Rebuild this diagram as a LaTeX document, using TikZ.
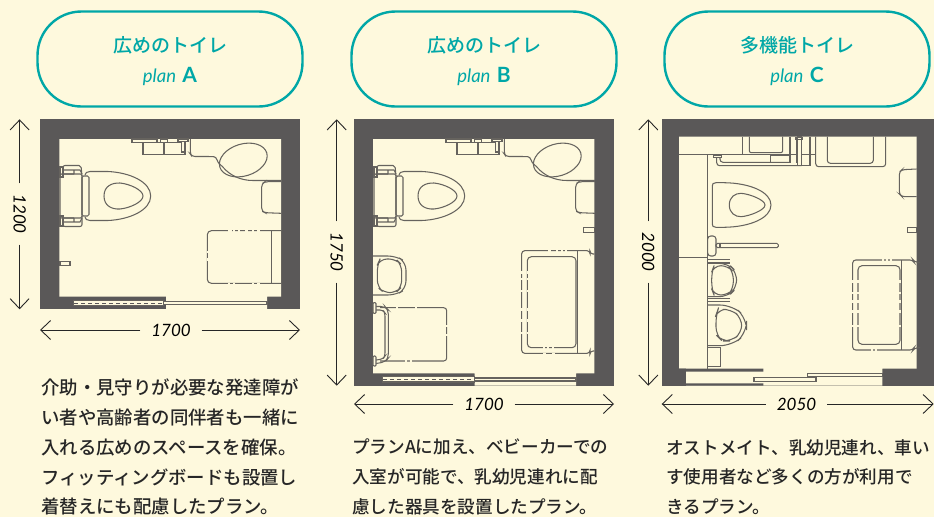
\documentclass[tikz,border=0pt]{standalone}
\usepackage{fontspec}
\usetikzlibrary{arrows.meta}
\setmainfont{Noto Sans CJK JP}
\newfontfamily\titlefont{Noto Sans CJK JP Medium}
\newfontfamily\latinfont{Lato}
\definecolor{cream}{HTML}{FEF9DD}
\definecolor{wallgray}{HTML}{5A5858}
\definecolor{fixgray}{HTML}{66635E}
\definecolor{teal}{HTML}{00A7A7}
\newcommand{\plantitle}[2]{{\rule{0pt}{21pt}\titlefont\fontsize{19}{19}\selectfont #1}\\[12pt]
    {\latinfont\fontsize{18.5}{18}\selectfont\itshape plan\hspace{2pt} \upshape\bfseries\fontsize{21}{18}\selectfont #2}}
\tikzset{
    pill/.style={draw=teal,line width=2.4pt,rounded corners=44pt,minimum width=265pt,minimum height=95pt,
        text=teal,align=center,inner sep=0},
    dimlabel/.style={minimum width=61pt,inner sep=0,font=\latinfont\itshape\fontsize{17}{17}\selectfont},
    dimline/.style={draw=black!85,line width=0.9pt},
    dimarrow/.style={dimline,-{Straight Barb[length=10pt,width=19pt,line width=0.9pt]}},
    bodytext/.style={anchor=north west,align=left,inner sep=0,text=black!85,font=\titlefont\fontsize{#1}{29.7}\selectfont},
    wall/.style={fill=wallgray},
    room/.style={fill=cream},
    fix/.style={draw=fixgray,line width=1.05pt},
    gapline/.style={draw=cream,line width=1.6pt},
    doorpanel/.style={fix,fill=cream},
    doorslide/.style={draw=wallgray,line width=1pt,dash pattern=on 4pt off 3pt}
}
% toilet, sink and shelf shared by plan A and plan B
\newcommand{\washset}[1]{
    \begin{scope}[xshift=#1]
        \draw[fix] (63,174) -- (63,168) [rounded corners=2] -- (63,165.5) -- (81,165.5) -- (82,176);
        \draw[fix,rounded corners=2] (63,219) -- (63,226.5) -- (82,226.5) -- (82,216);
        \draw[fix,rounded corners=1.5] (60,174) rectangle (82,218);
        \draw[fix] (60,167) rectangle (63,177) (60,216) rectangle (63,226);
        \draw[fix] (63,170) -- (80,170) -- (82,174) (63,174) -- (74,174) (74,170) -- (74,174);
        \draw[fix] (63,222) -- (80,222) -- (82,218) (63,218) -- (74,218) (74,218) -- (74,222);
        \draw[fix,rounded corners=1.5] (82,176) rectangle (89,216);
        \draw[fix] (85,175) .. controls (85,173) and (87,171.5) .. (90,171.5) -- (108,171.5)
            .. controls (130,172.5) and (150.7,182) .. (150.7,196)
            .. controls (150.7,210) and (130,219.5) .. (108,220.5) -- (90,220.5)
            .. controls (87,220.5) and (85,219) .. (85,217);
        \draw[fix] (104,196) .. controls (104,186) and (112,182.7) .. (120,183)
            .. controls (130,184) and (143,190) .. (143,196)
            .. controls (143,202) and (130,208) .. (120,209)
            .. controls (112,209.5) and (104,206) .. (104,196) -- cycle;
        % sink
        \draw[fix,rotate around={17:(243.3,160)}] (243.3,160) ellipse (24.5 and 16);
        \draw[fix,rounded corners=3] (190.3,139) -- (190.3,154) -- (192,156.5) -- (211,156.5)
            .. controls (217,157) and (217,162) .. (222,166)
            .. controls (230,175) and (240,180.5) .. (256,180.5) -- (281,180.5);
        % shelf
        \draw[fix] (132,139) rectangle (157,142.7) (143,142.7) rectangle (164,154.3)
            (164,142.7) rectangle (185,154.3) (160.7,139) rectangle (167.3,142.7);
        \draw[fix,fill=cream] (178,139) rectangle (188,141.7) (181.7,141.7) rectangle (185,152);
        \draw[fix,rounded corners=3] (281,181.7) -- (265,181.7) -- (261.7,184) -- (261.7,211) -- (265,212.7) -- (281,213.3);
    \end{scope}
}
\begin{document}
\begin{tikzpicture}[x=1pt,y=-1pt]
    \useasboundingbox[fill=cream] (0,0) rectangle (934,517);

    \node[pill] (titlea) at (170,59) {\plantitle{広めのトイレ}{A}};
    \node[pill] (titleb) at (484,59) {\plantitle{広めのトイレ}{B}};
    \node[pill] (titlec) at (797,59) {\plantitle{多機能トイレ}{C}};

    % plan A
    \fill[wall] (40,119.3) rectangle (300,309.3);
    \fill[room] (59.3,139) rectangle (281,296.7) (166,296.7) rectangle (267,309.3);
    \washset{0pt}
    \draw[doorpanel] (163.3,301.3) rectangle (267,304.3);
    \draw[doorpanel] (73.3,300.3) rectangle (163.3,305.7);
    \draw[doorslide] (74,303) -- (163,303);
    \draw[fix] (60,261.3) rectangle (70,265.7);
    \draw[fix,rounded corners=4] (281.5,230.7) -- (207.3,230.7) -- (207.3,283.3) -- (281.5,283.3);
    \draw[fix] (271.7,230.7) -- (271.7,283.3) (281.5,230.7) -- (281.5,283.3);
    \foreach \xa/\xb in {230/232,238/240,245/248,228/230,233/235,252/254,257/260}
        \draw[gapline] (\xa,230.7) -- (\xb,230.7);
    \foreach \xa/\xb in {228/230,233/235,252/254,257/260}
        \draw[gapline] (\xa,283.3) -- (\xb,283.3);
    \draw[gapline] (207.3,251) -- (207.3,253) (207.3,258) -- (207.3,261);

    % plan B
    \fill[wall] (354,119.3) rectangle (614,385.7);
    \fill[room] (373,139) rectangle (594.3,373.3) (474.7,373.3) rectangle (576,385.7);
    \washset{314pt}
    \draw[doorpanel] (474.7,378) rectangle (576,381);
    \draw[doorpanel] (382.3,376.5) rectangle (474.7,382);
    \draw[doorslide] (383,379.3) -- (474,379.3);
    \draw[fix] (583.7,227.3) rectangle (594.3,232.7);
    \draw[fix,rounded corners=3] (594.3,254) -- (590,254) -- (590,250.7) -- (521.7,250.7) -- (521.7,353.3) -- (590,353.3) -- (590,351) -- (594.3,351);
    \draw[fix] (577.7,250.7) -- (577.7,353.3);
    \draw[fix,rounded corners=4] (527.3,256.7) rectangle (576,347.7);
    \foreach \xa/\xb in {548/551,556/558,561/563,565/567}
        \draw[gapline] (\xa,250.7) -- (\xb,250.7);
    \foreach \xa/\xb in {547/549,552/554,543/545}
        \draw[gapline] (\xa,347.7) -- (\xb,347.7);
    \foreach \xa/\xb in {543/546,552/555}
        \draw[gapline] (\xa,353.3) -- (\xb,353.3);
    \foreach \ya/\yb in {271/274,278/280,290/292,308/311,319/322,332/334}
        \draw[gapline] (521.7,\ya) -- (521.7,\yb) (527.3,\ya) -- (527.3,\yb);
    \draw[fix,rounded corners=8] (373,256) -- (396,256) -- (406,262) -- (406,289) -- (396,295) -- (373,295);
    \draw[fix,rounded corners=7] (380,259) -- (396,259) -- (401.7,265) -- (401.7,287) -- (396,292.7) -- (384,292.7) -- (377.3,287) -- (377.3,265) -- cycle;
    \draw[fix,rounded corners=3] (380,307.7) -- (446.7,307.7) -- (446.7,361) -- (380,361);
    \draw[gapline] (396,307.7) -- (398,307.7) (415,307.7) -- (417,307.7) (446.7,325) -- (446.7,327) (446.7,334) -- (446.7,336) (405,361) -- (407,361) (410,361) -- (412,361);
    \draw[fix,rounded corners=4] (376,306.5) -- (385,306.5) -- (388.3,310) -- (388.3,358) -- (385,362) -- (376,363.5);
    \draw[fix,rounded corners=3] (376,310) -- (383,310) -- (385,313) -- (385,356) -- (383,359) -- (376,360);
    \draw[fix,fill=cream,rounded corners=1] (373,302.7) rectangle (376,313.3) (373,356) rectangle (376,366);

    % plan C
    \fill[wall] (661.7,119.3) rectangle (934,385.7);
    \fill[room] (679,136.7) rectangle (916.7,368.7) (686,368.7) rectangle (882.3,385.7);
    \fill[wall] (679,368.7) rectangle (763.3,371.5) (686,383.3) rectangle (763.3,385.7);
    \draw[doorpanel] (807.3,373.3) rectangle (882.3,376.7);
    \draw[doorpanel] (754,377.7) rectangle (816,381.7);
    \draw[fix] (679,154.3) -- (815.7,154.3) (707.3,154.3) -- (707.3,368.7) (679,257.3) -- (707.3,257.3);
    \draw[fix] (742.3,136.7) -- (742.3,154.3) (790,136.7) -- (790,163) (796.7,136.7) -- (796.7,163) (810,136.7) -- (810,154.3);
    \draw[fix,rounded corners=2] (749.3,136.7) -- (749.3,152.7) -- (782.7,152.7) -- (782.7,136.7);
    \draw[fix] (770.7,155) rectangle (790,162.3) (801.7,154.3) rectangle (810,165.7);
    \draw[fix,fill=cream] (797.7,137) rectangle (801.7,165.7) (796,137.5) rectangle (802.5,139.5);
    \draw[fix,rounded corners=3] (716.7,157) -- (716.7,165.7) -- (801.7,165.7) (720,157) -- (720,162.3) -- (790,162.3);
    \draw[fix] (713.3,155) rectangle (721.7,157.3);
    \draw[fix,rounded corners=3] (815.7,136.7) -- (815.7,166.7) -- (885.7,166.7) -- (885.7,136.7);
    \draw[fix,rounded corners=3] (827.3,136.7) -- (827.3,163.3) -- (873.3,163.3) -- (873.3,136.7);
    \draw[fix,rounded corners=3] (916.7,169) -- (902,169.7) -- (899.3,172) -- (899.3,194) -- (902,196.7) -- (916.7,196.7);
    \draw[fix] (907.3,227.3) rectangle (916.7,232.3);
    % toilet C
    \draw[fix] (712.3,186) .. controls (712.3,184) and (713,182.7) .. (716,182.7) -- (724,182.7)
        .. controls (750,183) and (771,192) .. (771,205)
        .. controls (771,218) and (750,227) .. (724,227.3) -- (716,227.3)
        .. controls (713,227.3) and (712.3,226) .. (712.3,224) -- cycle;
    \draw[fix] (729.3,205) .. controls (729.3,197) and (735,193.3) .. (741,193.3)
        .. controls (750,194) and (765,200) .. (765,205)
        .. controls (765,210) and (750,216) .. (741,216.7)
        .. controls (735,216.7) and (729.3,213) .. (729.3,205) -- cycle;
    % rail
    \draw[fix,rounded corners=3] (707.7,236) rectangle (716,256);
    \draw[fix,rounded corners=1.5] (716,243.3) rectangle (778.3,247.7);
    \draw[fix] (720,243.3) -- (720,247.7);
    % bidet units
    \draw[fix,rounded corners=9] (707.7,263.3) -- (728,263.3) -- (736.7,272) -- (736.7,288) -- (728,296.7) -- (707.7,296.7);
    \draw[fix,rounded corners=7] (714,265.7) -- (728,265.7) -- (733.3,272) -- (733.3,289) -- (728,295) -- (714,295) -- (711.7,289) -- (711.7,272) -- cycle;
    \draw[fix] (707.7,259.5) -- (730,259.5) (707.7,263) -- (730,263) (707.7,298.5) -- (730,298.5) (707.7,301.5) -- (730,301.5);
    \draw[fix,rounded corners=12] (707.3,305) -- (732,305) -- (746.7,318) -- (746.7,333) -- (732,345.7) -- (707.3,345.7);
    \draw[fix,rounded corners=8] (718,309.3) -- (731,309.3) -- (741.7,318) -- (741.7,333) -- (731,341) -- (722,341) -- (716,335) -- (716,315) -- cycle;
    \draw[fix] (707.7,347.3) rectangle (720.7,366.7);
    % baby table C
    \draw[fix,rounded corners=3] (916.7,262) -- (914,262) -- (913,260) -- (852.7,260) -- (852.7,350) -- (913,350) -- (914,348) -- (916.7,348);
    \draw[fix] (901.7,260) -- (901.7,350);
    \draw[fix,rounded corners=4] (858,265.7) rectangle (900,344.3);
    \foreach \xa/\xb in {882/884,886/888,890/892}
        \draw[gapline] (\xa,260) -- (\xb,260);
    \foreach \xa/\xb in {871/873,875/877}
        \draw[gapline] (\xa,350) -- (\xb,350);
    \foreach \ya/\yb in {280/283,292/294,300/303,310/313,325/327}
        \draw[gapline] (852.7,\ya) -- (852.7,\yb) (858,\ya) -- (858,\yb) (900,\ya) -- (900,\yb);

    % dimensions
    \node[dimlabel,rotate=-90] (dima) at (19.6,214) {1200};
    \coordinate (dimat) at (19.6,119.3);
    \coordinate (dimab) at (19.6,309.3);
    \draw[dimarrow] (dima) -- (dimat);
    \draw[dimarrow] (dima) -- (dimab);
    \node[dimlabel] (widtha) at (171,330) {1700};
    \coordinate (widthal) at (40,330);
    \coordinate (widthar) at (300,330);
    \draw[dimarrow] (widtha) -- (widthal);
    \draw[dimarrow] (widtha) -- (widthar);

    \node[dimlabel,rotate=-90] (dimb) at (336.7,252) {1750};
    \coordinate (dimbt) at (336.7,119.3);
    \coordinate (dimbb) at (336.7,385.7);
    \draw[dimarrow] (dimb) -- (dimbt);
    \draw[dimarrow] (dimb) -- (dimbb);
    \node[dimlabel] (widthb) at (484,404) {1700};
    \coordinate (widthbl) at (354,404);
    \coordinate (widthbr) at (614,404);
    \draw[dimarrow] (widthb) -- (widthbl);
    \draw[dimarrow] (widthb) -- (widthbr);

    \node[dimlabel,rotate=-90] (dimc) at (648.3,252) {2000};
    \coordinate (dimct) at (648.3,119.3);
    \coordinate (dimcb) at (648.3,385.7);
    \draw[dimarrow] (dimc) -- (dimct);
    \draw[dimarrow] (dimc) -- (dimcb);
    \node[dimlabel] (widthc) at (796.5,404) {2050};
    \coordinate (widthcl) at (661.7,404);
    \coordinate (widthcr) at (933.7,404);
    \draw[dimarrow] (widthc) -- (widthcl);
    \draw[dimarrow] (widthc) -- (widthcr);

    % captions
    \node[bodytext=18.4] (bodya) at (41,379) {介助・見守りが必要な発達障が\\い者や高齢者の同伴者も一緒に\\入れる広めのスペースを確保。\\フィッティングボードも設置し\\着替えにも配慮したプラン。};
    \node[bodytext=17.6] (bodyb) at (352,439) {プランAに加え、ベビーカーでの\\入室が可能で、乳幼児連れに配\\慮した器具を設置したプラン。};
    \node[bodytext=17.6] (bodyc) at (666,439) {オストメイト、乳幼児連れ、車い\\す使用者など多くの方が利用で\\きるプラン。};
\end{tikzpicture}
\end{document}
